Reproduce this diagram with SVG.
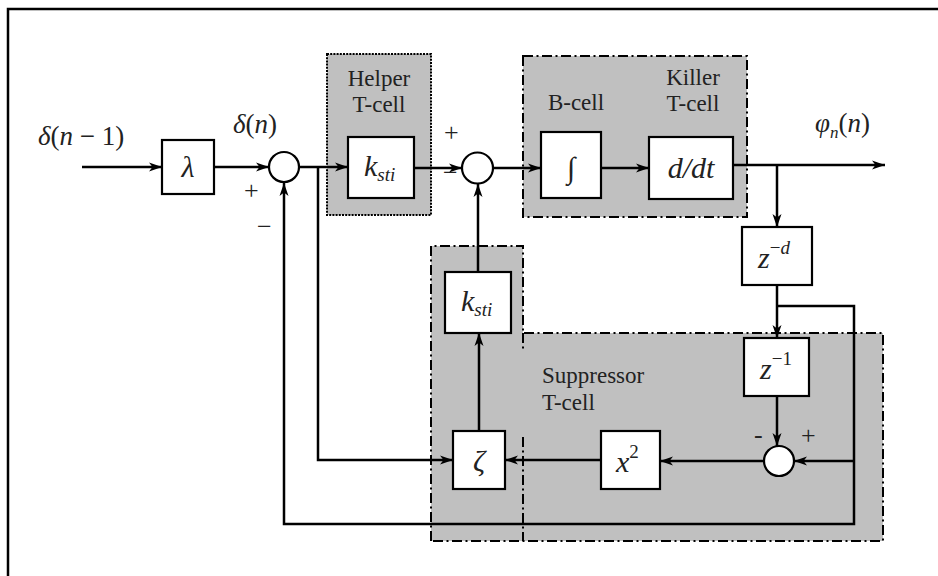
<svg xmlns="http://www.w3.org/2000/svg" width="938" height="576" viewBox="0 0 938 576">
<defs>
<marker id="ar" markerUnits="userSpaceOnUse" markerWidth="14" markerHeight="10" refX="13" refY="5" orient="auto">
<path d="M0,0.5 L13,5 L0,9.5 L3.5,5 Z" fill="#000"/>
</marker>
</defs>
<style>
.frame{fill:none;stroke:#000;stroke-width:2.5}
.reg{fill:#c0c0c0;stroke:none}
.dd{fill:none;stroke:#000;stroke-width:2;stroke-dasharray:10,3.5,2,3.5}
.dot{fill:none;stroke:#000;stroke-width:2;stroke-dasharray:2,1.2}
.box{fill:#fff;stroke:#000;stroke-width:2.2}
.sum{fill:#fff;stroke:#000;stroke-width:2.2}
.c{fill:none;stroke:#000;stroke-width:2.5}
.ca{fill:none;stroke:#000;stroke-width:2.5;marker-end:url(#ar)}
text{font-family:"Liberation Serif","Times New Roman",serif;fill:#222}
.lbl{font-size:23px}
.m{font-size:30px;font-style:italic}
.s{font-size:19px;font-style:italic}
.sg{font-size:26px}
</style>
<path class="frame" d="M8,576 V9 H938"/>
<g id="regions">
<rect class="reg" x="327" y="54" width="104" height="161"/>
<rect class="dot" x="327" y="54" width="104" height="161"/>
<rect class="reg" x="523" y="56" width="224" height="161"/>
<rect class="dd" x="523" y="56" width="224" height="161"/>
<path class="reg" d="M431,246 H523 V333 H883 V541 H431 Z"/>
<path class="dd" d="M431,541 V246 H523 V333 H883 V541 H431"/>
<path class="dd" d="M523,333 V352 M523,437 V541"/>
</g>
<g id="labels">
<text class="lbl" x="379" y="86" text-anchor="middle">Helper</text>
<text class="lbl" x="379" y="112" text-anchor="middle">T-cell</text>
<text class="lbl" x="576" y="110" text-anchor="middle">B-cell</text>
<text class="lbl" x="693" y="85" text-anchor="middle">Killer</text>
<text class="lbl" x="693" y="111" text-anchor="middle">T-cell</text>
<text class="lbl" x="542" y="383">Suppressor</text>
<text class="lbl" x="542" y="410">T-cell</text>
</g>
<g id="signals">
<text x="38" y="145" font-size="27"><tspan font-style="italic">δ</tspan>(<tspan font-style="italic">n</tspan> − 1)</text>
<text x="233" y="133" font-size="27"><tspan font-style="italic">δ</tspan>(<tspan font-style="italic">n</tspan>)</text>
<text x="815" y="132" font-size="27"><tspan font-style="italic">φ</tspan><tspan font-style="italic" font-size="17" dy="6">n</tspan><tspan dy="-6">(</tspan><tspan font-style="italic">n</tspan>)</text>
<text class="sg" x="244" y="199">+</text>
<text class="sg" x="257" y="235">−</text>
<text class="sg" x="444" y="141">+</text>
<text class="sg" x="443" y="181">−</text>
<text class="sg" x="754" y="443">-</text>
<text class="sg" x="801" y="444">+</text>
</g>
<g id="connectors">
<path class="ca" d="M82,167 H162"/>
<path class="ca" d="M214,167 H269"/>
<path class="ca" d="M299,167 H348"/>
<path class="ca" d="M318,167 V460 H453"/>
<path class="ca" d="M414,168 H462"/>
<path class="ca" d="M493,168 H541"/>
<path class="ca" d="M601,168 H649"/>
<path class="ca" d="M733,165 H885"/>
<path class="ca" d="M777,165 V227"/>
<path class="ca" d="M777,285 V338"/>
<path class="ca" d="M777,306 H854 V524 H284 V183"/>
<path class="ca" d="M777,396 V446"/>
<path class="ca" d="M854,461 H794"/>
<path class="ca" d="M763,461 H660"/>
<path class="ca" d="M601,460 H505"/>
<path class="ca" d="M479,431 V333"/>
<path class="ca" d="M478,272 V184"/>
</g>
<g id="lambda">
<rect class="box" x="162" y="140" width="52" height="54"/>
<text class="m" x="188" y="177" text-anchor="middle">λ</text>
</g>
<g id="sum1"><circle class="sum" cx="284" cy="167" r="15"/></g>
<g id="ksti1">
<rect class="box" x="348" y="137" width="66" height="61"/>
<text x="364" y="176"><tspan class="m">k</tspan><tspan class="s" dy="5">sti</tspan></text>
</g>
<g id="sum2"><circle class="sum" cx="477.5" cy="168" r="15.5"/></g>
<g id="integrator">
<rect class="box" x="541" y="132" width="60" height="66"/>
<text x="571" y="178" font-size="30" text-anchor="middle">∫</text>
</g>
<g id="deriv">
<rect class="box" x="649" y="137" width="84" height="62"/>
<text class="m" x="691" y="178" text-anchor="middle">d/dt</text>
</g>
<g id="zd">
<rect class="box" x="742" y="227" width="70" height="58"/>
<text x="758" y="268"><tspan class="m">z</tspan><tspan font-size="19" dy="-14">−</tspan><tspan class="s">d</tspan></text>
</g>
<g id="z1">
<rect class="box" x="744" y="338" width="65" height="58"/>
<text x="760" y="379"><tspan class="m">z</tspan><tspan font-size="19" dy="-14">−1</tspan></text>
</g>
<g id="sum3"><circle class="sum" cx="779" cy="461" r="15"/></g>
<g id="square">
<rect class="box" x="601" y="431" width="59" height="58"/>
<text x="616" y="472"><tspan class="m">x</tspan><tspan font-size="19" dy="-14">2</tspan></text>
</g>
<g id="zeta">
<rect class="box" x="453" y="431" width="52" height="58"/>
<text class="m" x="479" y="471" text-anchor="middle">ζ</text>
</g>
<g id="ksti2">
<rect class="box" x="445" y="272" width="66" height="61"/>
<text x="461" y="311"><tspan class="m">k</tspan><tspan class="s" dy="5">sti</tspan></text>
</g>
</svg>
